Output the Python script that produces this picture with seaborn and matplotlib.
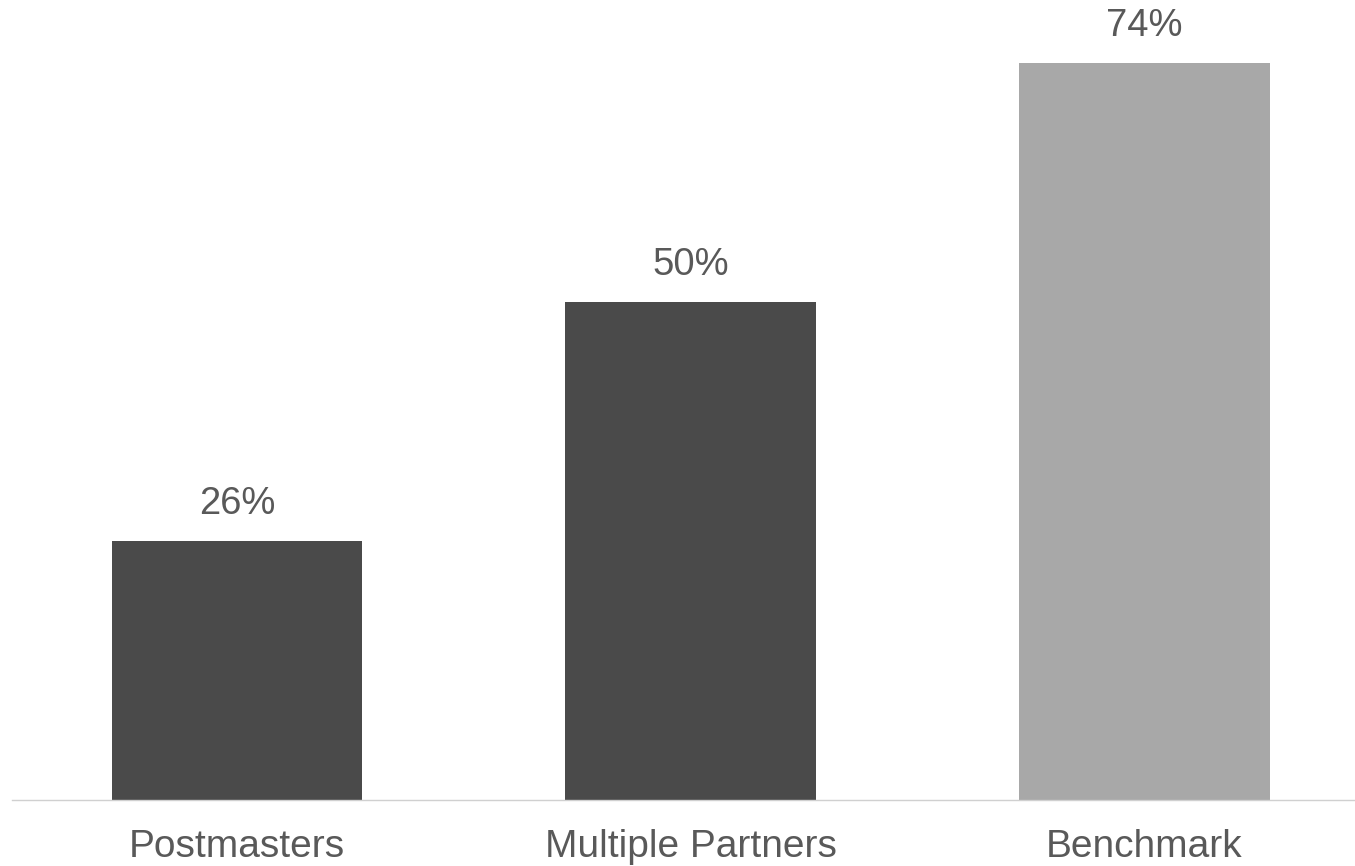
import matplotlib
matplotlib.use("Agg")
import matplotlib.pyplot as plt
import seaborn as sns
import pandas as pd

categories = ["Postmasters", "Multiple Partners", "Benchmark"]
values = [26, 50, 74]
bar_colors = ["#4a4a4a", "#4a4a4a", "#a8a8a8"]

sns.set_theme(style="white")
plt.rcParams["font.family"] = ["Liberation Sans", "DejaVu Sans"]

df = pd.DataFrame({"category": categories, "value": values})

fig = plt.figure(figsize=(13.55, 8.66), dpi=100)
ax = fig.add_axes([12 / 1355, 66 / 866, 1 - 12 / 1355, 797 / 866])

sns.barplot(data=df, x="category", y="value", hue="category",
            palette=bar_colors, width=0.553, legend=False, ax=ax,
            saturation=1, edgecolor="none")

for i, v in enumerate(values):
    ax.text(i, v + 1.9, f"{v}%", ha="center", va="bottom",
            fontsize=27.5, color="#595959")

ax.set_xlim(-0.496, 2.465)
ax.set_ylim(0, 80)
ax.set_xlabel("")
ax.set_ylabel("")
ax.set_yticks([])
ax.tick_params(axis="x", length=0, labelsize=28, colors="#595959", pad=21)
for side in ["top", "right", "left"]:
    ax.spines[side].set_visible(False)
ax.spines["bottom"].set_color("#d0d0d0")
ax.spines["bottom"].set_linewidth(1.0)

fig.savefig("out.png", dpi=100)
